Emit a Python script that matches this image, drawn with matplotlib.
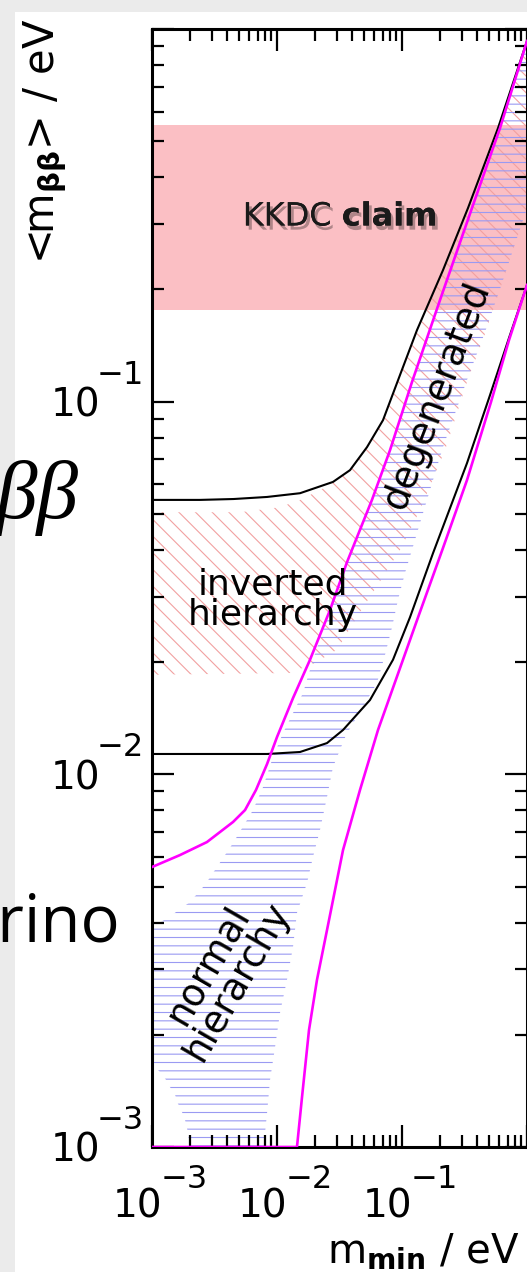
import numpy as np
import matplotlib.pyplot as plt
from matplotlib import patheffects
from matplotlib.patches import Rectangle
from matplotlib.ticker import LogLocator, NullFormatter

plt.rcParams['font.family'] = ['DejaVu Sans']
plt.rcParams['mathtext.fontset'] = 'dejavusans'
plt.rcParams['hatch.linewidth'] = 0.8

# lightest neutrino mass m_min [eV] vs effective Majorana mass <m_bb> [eV]
# inverted hierarchy, outer (3 sigma) envelope
ih_upper_m = [0.001, 0.00242, 0.0045, 0.00832, 0.01528, 0.02805, 0.03837, 0.05248,
              0.07047, 0.09638, 0.1318, 0.2128, 0.3373, 0.5861, 1.0]
ih_upper_mbb = [0.0545, 0.0545, 0.0548, 0.0555, 0.0568, 0.0609, 0.0655, 0.0755,
                0.0892, 0.1179, 0.1556, 0.2254, 0.3308, 0.542, 0.928]
ih_lower_m = [0.001, 0.00832, 0.01528, 0.02512, 0.03373, 0.05546, 0.08472, 0.1159,
              0.177, 0.3311, 0.5058, 0.7178, 1.0]
ih_lower_mbb = [0.01134, 0.01134, 0.01148, 0.01213, 0.01315, 0.01583, 0.0203, 0.0264,
                0.0392, 0.0684, 0.1041, 0.1482, 0.2056]

# normal hierarchy, outer envelope (lower bound reaches zero)
nh_upper_m = [0.001, 0.00167, 0.00275, 0.00445, 0.00555, 0.00679, 0.00832, 0.0100,
              0.01343, 0.01837, 0.02655, 0.03631, 0.0575, 0.08017, 0.1202, 0.2014,
              0.3698, 0.6081, 1.0]
nh_upper_mbb = [0.00564, 0.00607, 0.00658, 0.00745, 0.00802, 0.00908, 0.01065, 0.01259,
                0.01602, 0.0203, 0.0276, 0.0371, 0.0545, 0.0741, 0.1129, 0.1874,
                0.3369, 0.542, 0.928]
nh_lower_m = [0.001, 0.01445, 0.01585, 0.01803, 0.02089, 0.02512, 0.03373, 0.04613,
              0.06427, 0.1318, 0.2128, 0.3311, 0.5152, 0.7178, 1.0]
nh_lower_mbb = [0, 0, 0.00136, 0.00206, 0.00281, 0.00382, 0.00626, 0.00908,
                0.01315, 0.0259, 0.0405, 0.0616, 0.0998, 0.1463, 0.2056]

# best-fit bands (hatched)
ih_band_hi_m = [0.001, 0.00506, 0.01057, 0.01528, 0.02208, 0.02805, 0.03837, 0.05248,
                0.07047, 0.09638, 0.1318, 0.2128, 0.3373, 0.5861, 1.0]
ih_band_hi_mbb = [0.0505, 0.0505, 0.0521, 0.0545, 0.0579, 0.0605, 0.0651, 0.0751,
                  0.0887, 0.1164, 0.1537, 0.2227, 0.3287, 0.5388, 0.92]
ih_band_lo_m = [0.001, 0.0127, 0.02014, 0.0302, 0.04613, 0.0631, 0.09638, 0.1393,
                0.2208, 0.3311, 0.4613, 0.6081, 0.8318, 1.0]
ih_band_lo_mbb = [0.0185, 0.0187, 0.0199, 0.0216, 0.02726, 0.0320, 0.0400, 0.0512,
                  0.0741, 0.1129, 0.152, 0.2005, 0.2748, 0.33]

nh_band_hi_m = [0.001, 0.00134, 0.00201, 0.00265, 0.00331, 0.00445, 0.00643, 0.00773,
                0.00929, 0.01117, 0.01614, 0.01941, 0.02655, 0.03631, 0.0575, 0.08017,
                0.1202, 0.2014, 0.3698, 0.6081, 1.0]
nh_band_hi_mbb = [0.00389, 0.00412, 0.00454, 0.00505, 0.00564, 0.00654, 0.00802, 0.00924,
                  0.01113, 0.01291, 0.01652, 0.0203, 0.0276, 0.0371, 0.0545, 0.0741,
                  0.1129, 0.1874, 0.3369, 0.542, 0.928]
nh_band_lo_m = [0.001, 0.001117, 0.00127, 0.00139, 0.00153, 0.00161, 0.00174, 0.00184,
                0.00191, 0.00198, 0.00205, 0.0075, 0.00802, 0.00832, 0.00879, 0.00964,
                0.01057, 0.01202, 0.01343, 0.01445, 0.01738, 0.01941, 0.02208, 0.02512,
                0.02805, 0.03565, 0.04875, 0.0631, 0.0731, 0.0832, 0.0929, 0.1057,
                0.1202, 0.1472, 0.2128, 0.3311, 0.4613, 0.6081, 0.8318, 1.0]
nh_band_lo_mbb = [0.00169, 0.00161, 0.00153, 0.00145, 0.00138, 0.00131, 0.00124, 0.00118,
                  0.00112, 0.00104, 0, 0, 0.00109, 0.00123, 0.00151, 0.00185,
                  0.00229, 0.00281, 0.00344, 0.00425, 0.00511, 0.00600, 0.00709, 0.00869,
                  0.01046, 0.01275, 0.01516, 0.0176, 0.0209, 0.0248, 0.0294, 0.0347,
                  0.0400, 0.0502, 0.0755, 0.1143, 0.1537, 0.2005, 0.2748, 0.33]

# Klapdor-Kleingrothaus claim
kkdc_range = [0.176, 0.552]

xticks = [1e-3, 1e-2, 1e-1]
xtick_exp = ['\u22123', '\u22122', '\u22121']
yticks = [1e-3, 1e-2, 1e-1]
ytick_exp = ['\u22123', '\u22122', '\u22121']

W, H = 527, 1272
fig = plt.figure(figsize=(W / 100, H / 100), dpi=100)

# slide background strips
fig.patches.append(Rectangle((0, 1 - 12 / H), 1, 12 / H, transform=fig.transFigure,
                             facecolor='#ebebeb', edgecolor='none', zorder=0))
fig.patches.append(Rectangle((0, 0), 15 / W, 1, transform=fig.transFigure,
                             facecolor='#ebebeb', edgecolor='none', zorder=0))

# slide text sticking out from behind the plot
fig.text(78 / W, 1 - 518 / H, 'ββ', family='Liberation Serif', style='italic',
         fontsize=60, ha='right', va='baseline')
fig.text(120 / W, 1 - 942 / H, 'neutrino', family='Open Sans', fontsize=47,
         ha='right', va='baseline')

ax = fig.add_axes([152 / W, 125 / H, 375 / W, 1118 / H])
ax.set_xscale('log')
ax.set_yscale('log')
ax.set_xlim(1e-3, 1)
ax.set_ylim(1e-3, 1)
floor = ax.get_ylim()[0]

ax.axhspan(kkdc_range[0], kkdc_range[1], facecolor='#fbbfc4', edgecolor='none', zorder=0)


def band(hi_m, hi_v, lo_m, lo_v):
    xs = np.concatenate([hi_m, lo_m[::-1]])
    ys = np.concatenate([hi_v, lo_v[::-1]])
    return xs, np.maximum(ys, 1e-5)


xs, ys = band(ih_band_hi_m, ih_band_hi_mbb, ih_band_lo_m, ih_band_lo_mbb)
ax.fill(xs, ys, facecolor='none', edgecolor='#f2a0a0', hatch='\\\\', lw=0, zorder=1)
xs, ys = band(nh_band_hi_m, nh_band_hi_mbb, nh_band_lo_m, nh_band_lo_mbb)
ax.fill(xs, ys, facecolor='none', edgecolor='#9a9af2', hatch='--', lw=0, zorder=1)

ax.plot(ih_upper_m, ih_upper_mbb, color='black', lw=1.5, zorder=3)
ax.plot(ih_lower_m, ih_lower_mbb, color='black', lw=1.5, zorder=3)
ax.plot(nh_upper_m, nh_upper_mbb, color='#ff00ff', lw=1.9, zorder=4)
ax.plot(nh_lower_m, np.maximum(nh_lower_mbb, floor), color='#ff00ff', lw=1.9, zorder=4)

# region labels
ax.text(0.0319, 0.313, r'KKDC $\mathbf{claim}$', fontsize=23, ha='center', va='center',
        color='#1a1a1a', zorder=5,
        path_effects=[patheffects.withSimplePatchShadow(offset=(2, -3), shadow_rgbFace='k',
                                                        alpha=0.3),
                      patheffects.Normal()])
ax.text(0.00929, 0.0294, 'inverted\nhierarchy', fontsize=26, ha='center', va='center',
        linespacing=0.85, zorder=5)
ax.text(0.1905, 0.1041, 'degenerated', fontsize=27, ha='center', va='center',
        rotation=69, rotation_mode='anchor', zorder=5)
ax.text(0.0037, 0.00293, 'normal\nhierarchy', fontsize=27, ha='center', va='center',
        rotation=60, rotation_mode='anchor', linespacing=0.9, zorder=5)

# axes frame and ticks
for s in ax.spines.values():
    s.set_linewidth(2.2)
for axis in (ax.xaxis, ax.yaxis):
    axis.set_major_locator(LogLocator(base=10, numticks=12))
    axis.set_minor_locator(LogLocator(base=10, subs=np.arange(2, 10), numticks=12))
    axis.set_minor_formatter(NullFormatter())
ax.tick_params(which='both', direction='in', top=True, right=True, width=1.6,
               labelbottom=False, labelleft=False)
ax.tick_params(which='major', length=16)
ax.tick_params(which='minor', length=8.5)

for v, e in zip(xticks, xtick_exp):
    ax.annotate('10', xy=(v, 0), xycoords=ax.get_xaxis_transform(), xytext=(10, -70),
                textcoords='offset pixels', ha='right', va='baseline', fontsize=28)
    ax.annotate(e, xy=(v, 0), xycoords=ax.get_xaxis_transform(), xytext=(9, -41),
                textcoords='offset pixels', ha='left', va='baseline', fontsize=23)
for v, e in zip(yticks, ytick_exp):
    ax.annotate('10', xy=(0, v), xycoords=ax.get_yaxis_transform(), xytext=(-52, -15),
                textcoords='offset pixels', ha='right', va='baseline', fontsize=28)
    ax.annotate(e, xy=(0, v), xycoords=ax.get_yaxis_transform(), xytext=(-55, 18),
                textcoords='offset pixels', ha='left', va='baseline', fontsize=23)

fig.text(45 / W, 1 - 141 / H, r'<m$_{\mathbf{\beta\beta}}$> / eV', rotation=90,
         fontsize=30, ha='center', va='center')
fig.text(520 / W, 1 - 1263 / H, r'm$_{\mathbf{min}}$ / eV', fontsize=29,
         ha='right', va='baseline')

fig.savefig('out.png', dpi=100)
